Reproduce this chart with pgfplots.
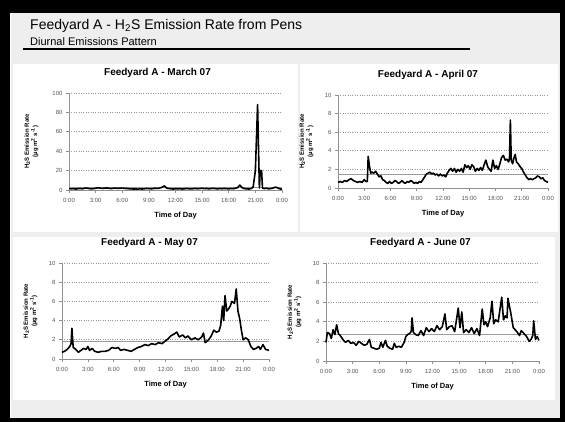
\documentclass[border=0pt]{standalone}
\usepackage{pgfplots}
\pgfplotsset{compat=1.18}
\usepackage{fontspec}
\setmainfont{Liberation Sans}
\definecolor{bggray}{HTML}{EEEEEE}
\definecolor{axgray}{HTML}{909090}
\definecolor{tickgray}{HTML}{555555}
\definecolor{refgray}{HTML}{9A9A9A}
\pgfplotsset{
  panel/.style={
    scale only axis,
    axis x line*=bottom, axis y line*=left,
    axis line style={axgray, line width=0.6pt},
    tick style={axgray, line width=0.6pt},
    tick align=outside,
    major tick length=3pt,
    xmin=0, xmax=24,
    xtick={0,3,...,24},
    xticklabels={0:00,3:00,6:00,9:00,12:00,15:00,18:00,21:00,0:00},
    ymin=0,
    ymajorgrids,
    grid style={dotted, black!40, line width=0.6pt},
    tick label style={font=\fontsize{6}{7}\selectfont, text=tickgray},
    xticklabel style={yshift=-2pt},
    /pgf/number format/assume math mode=true,
    title style={font=\bfseries\fontsize{10}{11}\selectfont, at={(axis description cs:0.5,1)}, anchor=south, yshift=6pt},
    xlabel={Time of Day},
    xlabel style={font=\bfseries\fontsize{7.5}{8.5}\selectfont, at={(axis description cs:0.5,0)}, anchor=north, yshift=-19pt},
    ylabel={H\textsubscript{2}S Emission Rate\\(µg m\textsuperscript{2} s\textsuperscript{-1})},
    ylabel style={font=\bfseries\fontsize{6}{6.8}\selectfont, align=center, anchor=south},
    clip=false,
  },
  ylabelx/.style={ylabel style={at={([xshift=-#1]axis description cs:0,0.5)}}},
  dataline/.style={black, line width=1.6pt, line join=round},
  refline/.style={refgray, line width=1pt},
}
\begin{document}
\begin{tikzpicture}
\useasboundingbox (0pt,0pt) rectangle (565pt,422pt);
\fill[black] (0pt,0pt) rectangle (565pt,422pt);
\fill[bggray] (10pt,4pt) rectangle (560pt,409pt);
\draw[white, line width=0.8pt] (10.4pt,4pt) -- (10.4pt,409pt);
\fill[white] (13pt,190pt) rectangle (298pt,358pt);
\fill[white] (300pt,190pt) rectangle (558pt,358pt);
\fill[white] (13pt,22pt) rectangle (555pt,185pt);
\node[anchor=base west, inner sep=0pt, font=\fontsize{14}{16}\selectfont] at (30pt,392.5pt) {Feedyard A - H\textsubscript{2}S Emission Rate from Pens};
\node[anchor=base west, inner sep=0pt, font=\fontsize{11}{13}\selectfont] at (30pt,376.5pt) {Diurnal Emissions Pattern};
\draw[black, line width=1.2pt] (23pt,373pt) -- (470pt,373pt);

% March
\begin{axis}[panel, at={(69pt,232pt)}, anchor=south west, width=213pt, height=97pt,
  ymax=100, ytick={0,20,...,100},
  title={Feedyard A - March 07}, title style={xshift=-18pt},
  ylabelx=27pt]
\addplot[refline] coordinates {(0,2.5) (24,2.5)};
\addplot[dataline] coordinates {
(0,1.5)(0.25,1.2)(0.5,1.4)(0.75,1.0)(1,1.3)(1.25,1.6)(1.5,1.2)(1.75,1.8)(2,2.0)(2.25,1.5)(2.5,1.2)(2.75,1.4)
(3,1.8)(3.25,2.2)(3.5,2.0)(3.75,1.6)(4,1.9)(4.25,2.1)(4.5,1.7)(4.75,1.5)(5,1.8)(5.25,2.0)(5.5,1.6)(5.75,1.9)
(6,2.0)(6.25,1.7)(6.5,1.5)(6.75,1.3)(7,1.2)(7.25,1.0)(7.5,1.1)(7.75,0.9)(8,1.2)(8.25,1.0)(8.5,1.3)(8.75,1.5)
(9,1.4)(9.25,1.2)(9.5,1.5)(9.75,1.8)(10,1.6)(10.25,2.0)(10.5,3.0)(10.75,4.2)(11,2.0)(11.25,1.5)(11.5,1.2)(11.75,1.0)
(12,1.3)(12.25,1.1)(12.5,1.4)(12.75,1.0)(13,1.2)(13.25,1.5)(13.5,1.3)(13.75,1.1)(14,1.4)(14.25,1.6)(14.5,1.3)(14.75,1.5)
(15,1.8)(15.25,1.4)(15.5,1.6)(15.75,1.2)(16,1.5)(16.25,1.7)(16.5,1.4)(16.75,1.2)(17,1.5)(17.25,1.3)(17.5,1.6)(17.75,1.4)
(18,1.2)(18.25,1.5)(18.5,1.3)(18.75,1.8)(19,2.5)(19.25,5.0)(19.5,2.5)(19.75,1.5)(20,1.2)(20.25,1.0)(20.5,1.4)(20.75,3.0)
(21.0,20)(21.25,88)(21.45,2)(21.55,20)(21.7,20)(21.8,2)(22,1.5)(22.25,1.8)(22.5,1.2)(22.75,1.5)(23,2.0)(23.25,3.0)
(23.5,2.2)(23.75,1.2)(24,0.8)
};
\end{axis}

% April
\begin{axis}[panel, at={(338pt,234pt)}, anchor=south west, width=210pt, height=93pt,
  ymax=10, ytick={0,2,...,10},
  title={Feedyard A - April 07}, title style={xshift=-15pt},
  ylabelx=21pt]
\addplot[refline] coordinates {(0,1.5) (24,1.5)};
\addplot[dataline] coordinates {
(0,0.6)(0.25,0.7)(0.5,0.6)(0.75,0.8)(1.0,0.7)(1.25,0.9)(1.5,1.0)(1.75,0.8)(2.0,0.7)(2.25,0.6)(2.5,0.7)(2.75,0.6)
(3.0,0.9)(3.2,0.7)(3.35,0.7)(3.45,3.4)(3.6,2.3)(3.75,1.6)(3.9,1.7)(4.1,1.6)(4.3,1.8)(4.5,1.5)(4.7,1.2)(4.9,1.3)
(5.1,0.9)(5.3,0.8)(5.5,0.6)(5.7,0.5)(5.9,0.7)(6.1,0.5)(6.3,0.6)(6.5,0.8)(6.7,0.7)(6.9,0.5)(7.1,0.6)(7.3,0.8)
(7.5,0.6)(7.7,0.5)(7.9,0.7)(8.1,0.6)(8.3,0.8)(8.5,0.7)(8.7,0.5)(8.9,0.6)(9.1,0.5)(9.3,0.7)(9.5,0.6)(9.7,0.9)
(9.9,1.2)(10.1,1.5)(10.3,1.6)(10.5,1.7)(10.7,1.5)(10.9,1.6)(11.1,1.4)(11.3,1.5)(11.5,1.3)(11.7,1.5)(11.9,1.3)(12.1,1.4)
(12.3,1.2)(12.5,1.6)(12.7,1.9)(12.9,2.1)(13.1,1.8)(13.3,2.1)(13.5,1.7)(13.7,2.0)(13.9,1.8)(14.1,2.1)(14.3,1.7)(14.5,2.5)
(14.7,2.2)(14.9,2.4)(15.1,2.0)(15.3,2.5)(15.5,2.3)(15.7,1.8)(15.9,2.1)(16.1,1.9)(16.3,2.2)(16.5,1.9)(16.7,2.5)(16.9,3.0)
(17.1,2.3)(17.3,2.0)(17.5,1.8)(17.7,3.0)(17.9,2.1)(18.1,2.4)(18.3,2.0)(18.5,2.6)(18.7,3.3)(18.9,3.5)(19.1,3.0)(19.3,3.1)
(19.5,2.8)(19.6,3.2)(19.7,7.3)(19.8,3.0)(19.95,2.6)(20.1,3.2)(20.25,3.6)(20.4,2.8)(20.6,2.6)(20.8,2.3)(21.0,2.1)(21.2,1.7)
(21.4,1.4)(21.6,1.1)(21.8,0.9)(22.0,1.0)(22.2,0.9)(22.4,1.0)(22.6,1.1)(22.8,1.3)(23.0,1.2)(23.2,1.0)(23.4,1.1)(23.6,0.8)
(23.8,0.7)(24.0,0.6)
};
\end{axis}

% May
\begin{axis}[panel, at={(62pt,63pt)}, anchor=south west, width=207pt, height=96pt,
  ymax=10, ytick={0,2,...,10},
  title={Feedyard A - May 07}, title style={xshift=-16pt},
  ylabelx=21pt]
\addplot[refline] coordinates {(0,1.8) (24,1.8)};
\addplot[dataline] coordinates {
(0,0.7)(0.3,0.8)(0.6,1.0)(0.9,1.3)(1.05,1.6)(1.15,3.2)(1.3,1.2)(1.6,1.0)(1.9,0.7)(2.2,0.9)(2.5,1.1)(2.8,1.0)
(3.0,1.3)(3.2,0.9)(3.5,1.1)(3.8,0.8)(4.2,0.7)(4.6,0.8)(5.0,0.8)(5.4,0.9)(5.8,1.2)(6.2,1.1)(6.5,1.2)(6.8,0.9)
(7.2,1.0)(7.6,0.9)(8.0,0.8)(8.4,1.0)(8.8,1.2)(9.2,1.3)(9.6,1.5)(10.0,1.4)(10.4,1.6)(10.8,1.5)(11.2,1.7)(11.6,1.6)
(12.0,1.9)(12.3,2.1)(12.6,2.4)(13.0,2.6)(13.3,2.8)(13.6,2.3)(14.0,2.5)(14.3,2.2)(14.6,2.4)(15.0,2.0)(15.4,2.2)(15.8,2.0)
(16.2,2.3)(16.4,2.7)(16.6,1.7)(17.0,2.0)(17.3,2.4)(17.6,3.0)(17.9,2.8)(18.2,2.9)(18.4,3.5)(18.6,5.5)(18.75,4.0)(18.9,6.6)
(19.1,5.0)(19.3,5.2)(19.5,5.5)(19.7,6.0)(20.0,5.8)(20.2,7.3)(20.4,5.0)(20.6,4.2)(20.8,3.0)(21.0,2.0)(21.3,2.2)(21.6,2.0)
(21.9,1.3)(22.2,1.0)(22.5,1.1)(22.8,1.3)(23.0,1.0)(23.3,1.5)(23.6,1.0)(24,0.9)
};
\end{axis}

% June
\begin{axis}[panel, at={(326pt,61pt)}, anchor=south west, width=213pt, height=98pt,
  ymax=10, ytick={0,2,...,10},
  title={Feedyard A - June 07}, title style={xshift=-12pt},
  ylabelx=21pt]
\addplot[refline] coordinates {(0,2.75) (24,2.75)};
\addplot[dataline] coordinates {
(0,1.9)(0.15,2.9)(0.4,2.8)(0.6,2.3)(0.8,3.2)(1.0,2.7)(1.2,3.7)(1.4,2.8)(1.6,2.6)(1.9,2.2)(2.2,1.9)(2.5,2.1)
(2.8,1.8)(3.1,1.9)(3.4,1.6)(3.7,2.0)(4.0,1.8)(4.3,1.6)(4.6,1.7)(4.9,2.2)(5.1,1.4)(5.4,1.3)(5.7,1.2)(6.0,1.3)
(6.2,1.9)(6.4,1.4)(6.7,2.1)(6.9,1.5)(7.2,1.3)(7.5,1.2)(7.7,1.8)(7.9,1.4)(8.2,1.5)(8.5,1.4)(8.8,1.9)(9.0,2.5)
(9.2,2.7)(9.4,2.8)(9.6,3.0)(9.7,4.4)(9.85,2.9)(10.1,2.7)(10.4,2.6)(10.7,3.1)(11.0,2.6)(11.3,3.4)(11.6,3.0)(11.9,3.3)
(12.2,3.0)(12.5,3.6)(12.8,3.2)(13.1,3.5)(13.4,4.8)(13.6,3.2)(13.9,3.5)(14.2,3.6)(14.5,3.0)(14.9,5.4)(15.1,3.4)(15.3,5.0)
(15.5,2.9)(15.8,3.2)(16.1,2.9)(16.4,3.4)(16.7,2.8)(17.0,3.3)(17.3,2.6)(17.6,5.3)(17.8,3.7)(18.0,4.0)(18.2,3.5)(18.5,4.4)
(18.7,6.1)(18.9,3.8)(19.1,4.2)(19.4,4.0)(19.8,6.5)(20.0,4.2)(20.2,4.6)(20.4,4.4)(20.5,6.4)(20.8,5.0)(21.1,3.4)(21.3,3.2)
(21.5,3.0)(21.8,2.6)(22.0,3.1)(22.3,2.8)(22.6,2.5)(22.9,2.0)(23.1,2.2)(23.3,2.6)(23.4,4.1)(23.6,2.2)(23.8,2.5)(24,2.1)
};
\end{axis}
\end{tikzpicture}
\end{document}
